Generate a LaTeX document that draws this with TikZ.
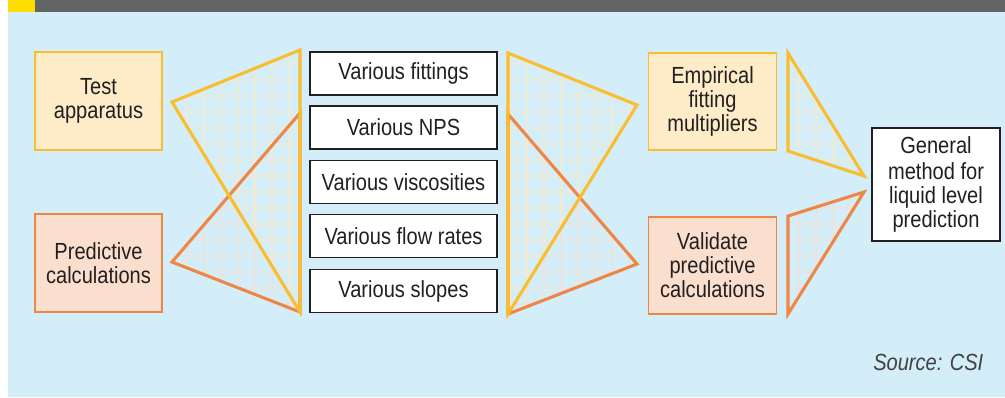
\documentclass[tikz,border=0pt]{standalone}
\usepackage{fontspec}
\setmainfont{Liberation Sans}[FakeStretch=0.86]
\definecolor{bg}{RGB}{211,238,249}
\definecolor{band}{RGB}{99,100,102}
\definecolor{bandY}{RGB}{255,221,0}
\definecolor{yelB}{RGB}{251,189,48}
\definecolor{yelF}{RGB}{254,236,200}
\definecolor{orB}{RGB}{239,134,68}
\definecolor{orF}{RGB}{250,223,206}
\definecolor{gridY}{RGB}{250,236,196}
\definecolor{gridO}{RGB}{247,222,208}
\definecolor{ink}{RGB}{35,31,32}
\begin{document}
\begin{tikzpicture}[x=0.75pt,y=-0.75pt,
  txt/.style={font=\fontsize{17.5}{18}\selectfont, align=center, text=ink},
  ybox/.style={txt, draw=yelB, fill=yelF, line width=1.4pt, inner sep=0pt},
  obox/.style={txt, draw=orB, fill=orF, line width=1.4pt, inner sep=0pt},
  mbox/.style={txt, draw=ink, fill=white, line width=1.4pt, minimum width=140.25pt, minimum height=32.25pt, inner sep=0pt},
  ytri/.style={draw=yelB, line width=2.3pt, line join=miter},
  otri/.style={draw=orB, line width=2.3pt, line join=miter},
  ygrid/.style={draw=gridY, line width=1.1pt, draw opacity=0.65},
  ogrid/.style={draw=gridO, line width=1.1pt, draw opacity=0.65},
]
\useasboundingbox (0,0) rectangle (1005,397);
\fill[white] (0,0) rectangle (1005,397);
\fill[bg] (8,12) rectangle (1005,397);
\fill[band] (8,0) rectangle (1005,12);
\fill[bandY] (8,0) rectangle (35,12);

% boxes
\node[ybox, minimum width=95.25pt, minimum height=73.5pt] (test) at (98.5,101) {Test\\apparatus};
\node[obox, minimum width=95.25pt, minimum height=73.5pt] (pred) at (98.5,263) {Predictive\\calculations};
\node[mbox] (m1) at (403.5,73.5) {Various fittings};
\node[mbox] (m2) at (403.5,127.5) {Various NPS};
\node[mbox] (m3) at (403.5,182) {Various viscosities};
\node[mbox] (m4) at (403.5,236) {Various flow rates};
\node[mbox] (m5) at (403.5,291) {Various slopes};
\node[ybox, minimum width=96pt, minimum height=72.75pt] (emp) at (712.5,101.5) {Empirical\\fitting\\multipliers};
\node[obox, minimum width=96pt, minimum height=72.75pt] (val) at (712.5,265.5) {Validate\\predictive\\calculations};
\node[mbox, minimum width=96pt, minimum height=84.75pt] (gen) at (936,184.5) {\strut General\\method for\\liquid level\\prediction};

% triangle vertices
\coordinate (a1) at (172,102); \coordinate (a2) at (300,50); \coordinate (a3) at (300,312);
\coordinate (b1) at (172,262); \coordinate (b2) at (300,113); \coordinate (b3) at (300,312);
\coordinate (c1) at (508,53); \coordinate (c2) at (637,105); \coordinate (c3) at (508,314);
\coordinate (d1) at (508,114); \coordinate (d2) at (637,264); \coordinate (d3) at (508,314);
\coordinate (e1) at (788,53); \coordinate (e2) at (864,176); \coordinate (e3) at (788,151);
\coordinate (f1) at (788,216); \coordinate (f2) at (864,192); \coordinate (f3) at (788,314);

% grids
\begin{scope}\clip (b1) -- (b2) -- (b3) -- cycle;
\draw[ogrid] (160,40) grid[xstep=12.75pt, ystep=12pt] (310,330);\end{scope}
\begin{scope}\clip (a1) -- (a2) -- (a3) -- cycle;
\draw[ygrid] (160,40) grid[xstep=12.75pt, ystep=12pt] (310,330);\end{scope}
\begin{scope}\clip (d1) -- (d2) -- (d3) -- cycle;
\draw[ogrid] (500,40) grid[xstep=12.75pt, ystep=12pt] (650,330);\end{scope}
\begin{scope}\clip (c1) -- (c2) -- (c3) -- cycle;
\draw[ygrid] (500,40) grid[xstep=12.75pt, ystep=12pt] (650,330);\end{scope}
\begin{scope}\clip (e1) -- (e2) -- (e3) -- cycle;
\draw[ygrid] (780,40) grid[xstep=12.75pt, ystep=12pt] (870,330);\end{scope}
\begin{scope}\clip (f1) -- (f2) -- (f3) -- cycle;
\draw[ogrid] (780,40) grid[xstep=12.75pt, ystep=12pt] (870,330);\end{scope}

% outlines
\draw[otri] (b1) -- (b2) -- (b3) -- cycle;
\draw[ytri] (a1) -- (a2) -- (a3) -- cycle;
\draw[otri] (d1) -- (d2) -- (d3) -- cycle;
\draw[ytri] (c1) -- (c2) -- (c3) -- cycle;
\draw[ytri] (e1) -- (e2) -- (e3) -- cycle;
\draw[otri] (f1) -- (f2) -- (f3) -- cycle;

\node[txt, anchor=east, font=\fontsize{17.5}{18}\selectfont\itshape, text=ink!85] (src) at (988,362) {Source: CSI};
\end{tikzpicture}
\end{document}
